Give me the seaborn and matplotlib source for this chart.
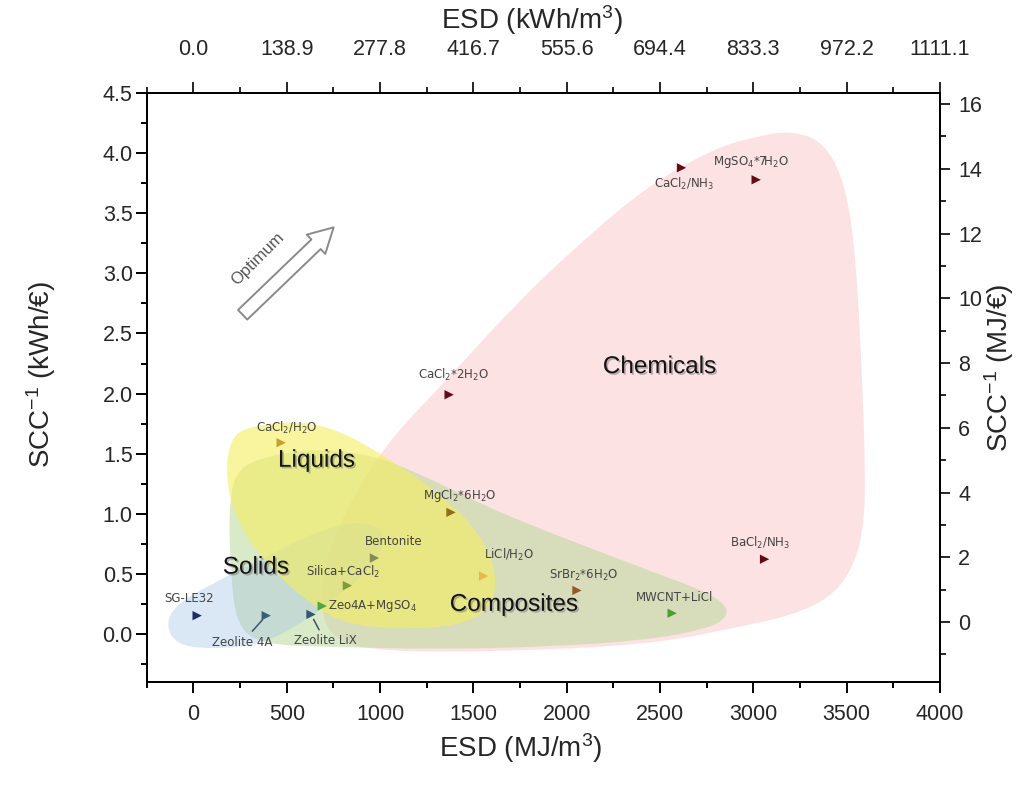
import numpy as np
import pandas as pd
import matplotlib
matplotlib.use("Agg")
import matplotlib.pyplot as plt
import matplotlib.patheffects as pe
from matplotlib.path import Path
from matplotlib.patches import PathPatch, FancyArrowPatch
from matplotlib.ticker import MultipleLocator, FixedLocator
import seaborn as sns

# materials: energy storage density (MJ/m3) vs inverse storage capacity cost (kWh/EUR)
materials = ["SG-LE32", "Zeolite 4A", "Zeolite LiX", "Zeo4A+MgSO4", "Silica+CaCl2",
             "Bentonite", "CaCl2/H2O", "MgCl2*6H2O", "LiCl/H2O", "SrBr2*6H2O",
             "MWCNT+LiCl", "CaCl2*2H2O", "CaCl2/NH3", "MgSO4*7H2O", "BaCl2/NH3"]
esd_mj = [20, 390, 630, 690, 825, 970, 470, 1380, 1555, 2055, 2565, 1370, 2615, 3015, 3060]
scc_inv = [0.15, 0.15, 0.16, 0.23, 0.40, 0.63, 1.59, 1.01, 0.48, 0.36, 0.17, 1.99, 3.88, 3.78, 0.62]
labels = ["SG-LE32", "Zeolite 4A", "Zeolite LiX", "Zeo4A+MgSO$_4$", "Silica+CaCl$_2$",
          "Bentonite", "CaCl$_2$/H$_2$O", "MgCl$_2$*6H$_2$O", "LiCl/H$_2$O", "SrBr$_2$*6H$_2$O",
          "MWCNT+LiCl", "CaCl$_2$*2H$_2$O", "CaCl$_2$/NH$_3$", "MgSO$_4$*7H$_2$O", "BaCl$_2$/NH$_3$"]

# rough outlines of the material-class regions (data coords)
chem_x = [3205, 3382, 3494, 3548, 3580, 3601, 3591, 3532, 3414, 3200, 2905, 2450, 1646, 1003,
          736, 671, 736, 1003, 1362, 1716, 2076, 2435, 2788, 3013]
chem_y = [4.19, 4.09, 3.74, 3.16, 2.24, 1.34, 0.87, 0.54, 0.30, 0.15, 0.05, -0.09, -0.15, -0.15,
          -0.05, 0.29, 0.79, 1.54, 2.12, 2.73, 3.26, 3.73, 4.04, 4.14]
comp_x = [227, 414, 682, 950, 1218, 1539, 1861, 2182, 2503, 2744, 2862, 2851, 2744, 2450,
          1914, 1271, 736, 361, 227, 200, 189]
comp_y = [1.37, 1.49, 1.54, 1.49, 1.33, 1.08, 0.87, 0.68, 0.49, 0.35, 0.23, 0.12, 0.04, -0.05,
          -0.11, -0.13, -0.11, -0.09, 0.08, 0.54, 1.04]
liq_x = [190, 334, 575, 789, 1057, 1325, 1539, 1630, 1593, 1405, 1111, 789, 521, 280, 173]
liq_y = [1.64, 1.74, 1.77, 1.69, 1.45, 1.16, 0.83, 0.49, 0.20, 0.06, 0.04, 0.08, 0.37, 0.79, 1.20]
sol_x = [-148, -95, 93, 361, 629, 843, 977, 1031, 977, 789, 575, 361, 93, -95]
sol_y = [0.08, 0.24, 0.41, 0.62, 0.83, 0.93, 0.91, 0.79, 0.58, 0.33, 0.08, -0.09, -0.13, -0.09]

groups = ["Chemicals", "Liquids", "Solids", "Composites"]
group_x = [2496, 659, 334, 1716]
group_y = [2.22, 1.44, 0.55, 0.24]

x_ticks = [0, 500, 1000, 1500, 2000, 2500, 3000, 3500, 4000]
right_ticks = [0, 2, 4, 6, 8, 10, 12, 14, 16]

# label offsets in points (dx, dy) and alignment
offsets = {
    "SG-LE32": (-6, 12, "center"), "Zeolite 4A": (-17, -19, "center"),
    "Zeolite LiX": (10, -19, "center"), "Zeo4A+MgSO4": (4, 0, "left"),
    "Silica+CaCl2": (-3, 10, "center"), "Bentonite": (14, 12, "center"),
    "CaCl2/H2O": (4, 11, "center"), "MgCl2*6H2O": (6, 12, "center"),
    "LiCl/H2O": (18, 15, "center"), "SrBr2*6H2O": (5, 11, "center"),
    "MWCNT+LiCl": (2, 11.5, "center"), "CaCl2*2H2O": (3, 14, "center"),
    "CaCl2/NH3": (2, -12, "center"), "MgSO4*7H2O": (-4, 13, "center"),
    "BaCl2/NH3": (-3, 12, "center"),
}
palette = {
    "SG-LE32": "#1e2a6a", "Zeolite 4A": "#35607a", "Zeolite LiX": "#34566e",
    "Zeo4A+MgSO4": "#4fa83c", "Silica+CaCl2": "#7c9a3c", "Bentonite": "#838a55",
    "CaCl2/H2O": "#c9a030", "MgCl2*6H2O": "#8c6e1e", "LiCl/H2O": "#eab84a",
    "SrBr2*6H2O": "#945a28", "MWCNT+LiCl": "#47a030", "CaCl2*2H2O": "#640a14",
    "CaCl2/NH3": "#640a14", "MgSO4*7H2O": "#640a14", "BaCl2/NH3": "#640a14",
}

df = pd.DataFrame({"material": materials, "esd": esd_mj, "scc": scc_inv, "label": labels})

sns.set_style("white")
plt.rcParams["font.family"] = ["Liberation Sans", "DejaVu Sans"]
plt.rcParams["mathtext.default"] = "regular"


def blob(ax, xs, ys, color, alpha, z):
    """Smooth closed outline through the midpoints of the given vertices."""
    pts = np.column_stack([xs, ys])
    n = len(pts)
    mids = (pts + np.roll(pts, -1, axis=0)) / 2
    verts = [mids[-1]]
    codes = [Path.MOVETO]
    for i in range(n):
        verts += [pts[i], mids[i]]
        codes += [Path.CURVE3, Path.CURVE3]
    patch = PathPatch(Path(verts, codes), facecolor=color, edgecolor="none", alpha=alpha, zorder=z)
    ax.add_patch(patch)


fig = plt.figure(figsize=(10.17, 7.85), dpi=100)
ax = fig.add_axes([0.1443, 0.1316, 0.7800, 0.7495])

blob(ax, chem_x, chem_y, "#fde2e4", 1.0, 1)
blob(ax, comp_x, comp_y, "#b9da9a", 0.55, 2)
blob(ax, sol_x, sol_y, "#a9c6e6", 0.42, 3)
blob(ax, liq_x, liq_y, "#f5ef5e", 0.6, 4)

sns.scatterplot(data=df, x="esd", y="scc", hue="material", palette=palette, marker=">",
                s=45, linewidth=0, legend=False, ax=ax, zorder=6)

for name, lab, x, y in zip(materials, labels, esd_mj, scc_inv):
    dx, dy, ha = offsets[name]
    arrow = None
    if name.startswith("Zeolite"):
        arrow = dict(arrowstyle="-", color="#3c5568", lw=1.1, shrinkA=1, shrinkB=4)
    ax.annotate(lab, (x, y), xytext=(dx, dy), textcoords="offset points", ha=ha, va="center",
                fontsize=8.5, color="#444444", family=["DejaVu Sans"], arrowprops=arrow, zorder=7)

for g, gx, gy in zip(groups, group_x, group_y):
    ax.text(gx, gy, g, fontsize=17.5, ha="center", va="center", color="#141414", zorder=8,
            path_effects=[pe.SimplePatchShadow(offset=(1.2, -1.2), shadow_rgbFace="#777777", alpha=0.5),
                          pe.Normal()])

# "Optimum" hollow arrow
arr = FancyArrowPatch((253, 2.64), (762, 3.40), arrowstyle="simple,head_length=11,head_width=12,tail_width=6",
                      facecolor="white", edgecolor="#8a8a8a", lw=1.4, zorder=5, mutation_scale=1.6)
ax.add_patch(arr)
ax.text(343, 3.12, "Optimum", rotation=45, fontsize=12, color="#555555", ha="center", va="center", zorder=5)

ax.set_xlim(-250, 4000)
ax.set_ylim(-0.4, 4.5)
ax.xaxis.set_major_locator(FixedLocator(x_ticks))
ax.xaxis.set_minor_locator(MultipleLocator(250))
ax.yaxis.set_major_locator(MultipleLocator(0.5))
ax.yaxis.set_minor_locator(MultipleLocator(0.25))
ax.yaxis.set_major_formatter(plt.FuncFormatter(lambda v, p: f"{v:.1f}"))
ax.set_xlabel("")
ax.set_ylabel("")

# top axis in kWh/m3
top = ax.secondary_xaxis("top", functions=(lambda v: v / 3.6, lambda v: v * 3.6))
top.xaxis.set_major_locator(FixedLocator([t / 3.6 for t in x_ticks]))
top.xaxis.set_minor_locator(FixedLocator([(t - 250) / 3.6 for t in x_ticks]))
top.xaxis.set_major_formatter(plt.FuncFormatter(lambda v, p: f"{v:.1f}"))

# right axis in MJ/EUR
right = ax.twinx()
right.set_ylim(-1.84, 16.33)
right.yaxis.set_major_locator(FixedLocator(right_ticks))
right.yaxis.set_minor_locator(FixedLocator([t - 1 for t in right_ticks] + [15]))
right.set_ylabel("")

# axis titles
fig.text(0.5123, 0.0471, "ESD (MJ/m$^3$)", fontsize=20, ha="center", va="center")
fig.text(0.523, 0.975, "ESD (kWh/m$^3$)", fontsize=20, ha="center", va="center")
fig.text(0.0403, 0.5223, "SCC$^{-1}$ (kWh/€)", fontsize=20, ha="center", va="center", rotation=90)
fig.text(0.9823, 0.5312, "SCC$^{-1}$ (MJ/€)", fontsize=20, ha="center", va="center", rotation=90)

for a in (ax, right):
    for s in a.spines.values():
        s.set_linewidth(1.4)
        s.set_color("black")
top.spines["top"].set_linewidth(1.4)

ax.tick_params(axis="both", which="major", direction="out", length=8, width=1.4, labelsize=15.5, color="black")
ax.tick_params(axis="both", which="minor", direction="out", length=4.5, width=1.4, color="black")
ax.tick_params(axis="y", which="both", left=True, pad=2)
ax.tick_params(axis="x", which="both", bottom=True, pad=8)
top.tick_params(which="major", direction="out", length=8, width=1.4, labelsize=15.5, pad=16)
top.tick_params(which="minor", direction="out", length=4.5, width=1.4)
right.tick_params(which="major", direction="out", length=7, width=1.4, labelsize=15.5, pad=6)
right.tick_params(which="minor", direction="out", length=4.5, width=1.4)

fig.savefig("out.png", dpi=100)
